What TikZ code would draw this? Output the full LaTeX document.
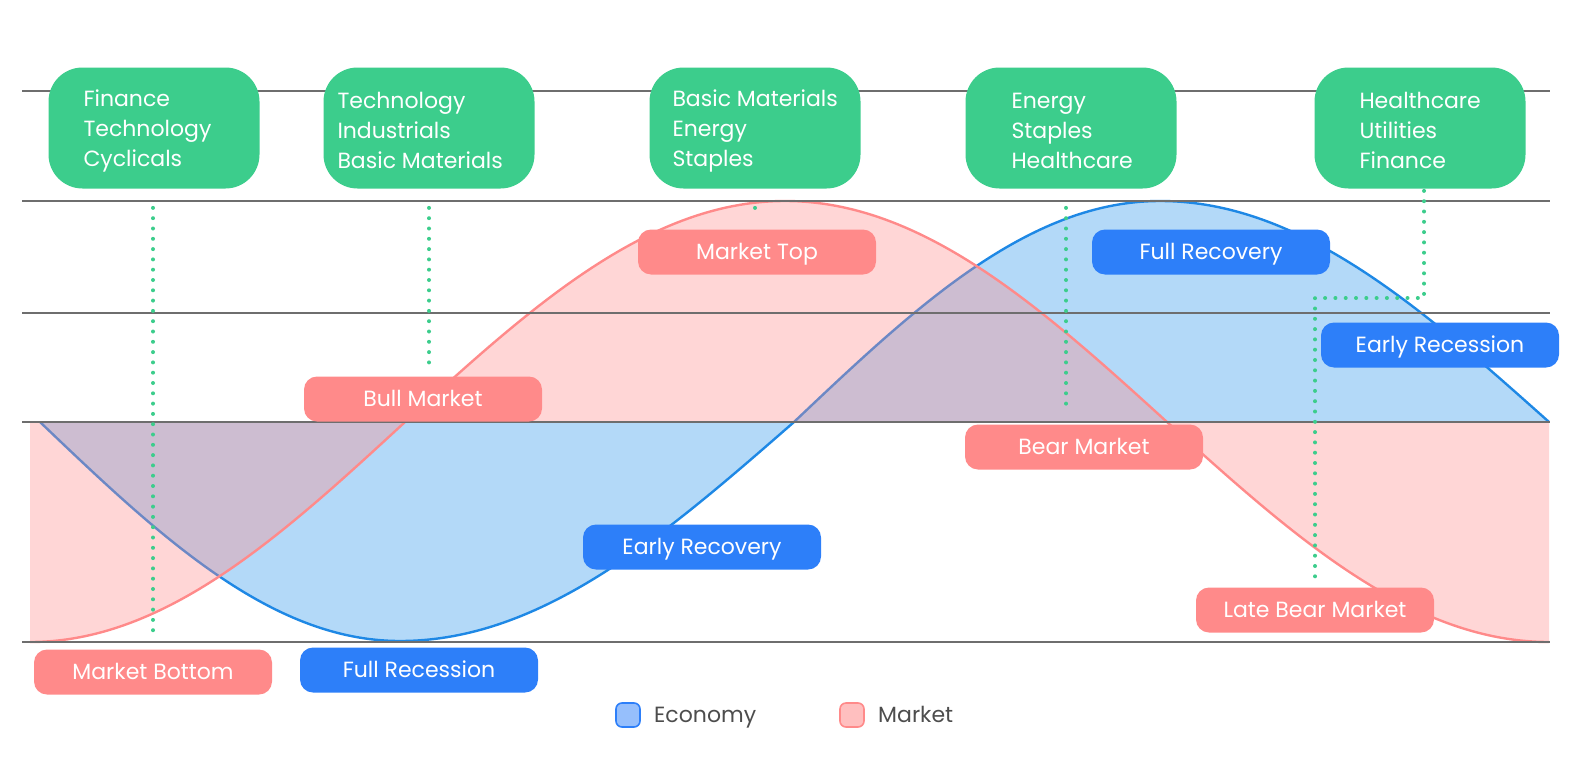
\documentclass[tikz,border=0pt]{standalone}
\usepackage{fontspec}
\setmainfont{Poppins}
\usetikzlibrary{positioning}

\definecolor{sectorgreen}{RGB}{60,205,140}
\definecolor{econblue}{RGB}{45,127,249}
\definecolor{econline}{RGB}{30,136,229}
\definecolor{econfill}{RGB}{38,146,235}
\definecolor{mktred}{RGB}{255,138,138}
\definecolor{levelgray}{RGB}{110,110,110}
\definecolor{keytext}{RGB}{77,77,77}

\tikzset{
  sector/.style={fill=sectorgreen, rounded corners=17pt, minimum width=105.5pt, minimum height=60.5pt},
  sectortext/.style={anchor=west, yshift=-1.3pt, text=white, align=left, inner sep=0pt, font=\fontsize{11}{15}\selectfont},
  phase/.style={rounded corners=6.5pt, minimum width=119pt, minimum height=22.5pt, inner sep=0pt,
    text height=7.7pt, text depth=0pt, text=white, font=\fontsize{11}{12}\selectfont},
  mktphase/.style={phase, fill=mktred},
  econphase/.style={phase, fill=econblue},
  link/.style={sectorgreen, line width=2pt, line cap=round, dash pattern=on 0pt off 5.15pt},
  level/.style={levelgray, line width=0.9pt},
  keybox/.style={rounded corners=3pt, minimum size=12pt, line width=0.8pt},
  keylabel/.style={inner sep=0pt, text height=7.7pt, text depth=0pt, text=keytext, font=\fontsize{11}{12}\selectfont},
}

\begin{document}
\begin{tikzpicture}[x=0.5pt, y=-0.5pt]
    \useasboundingbox (0,0) rectangle (1578,776);

    % economy wave
    \fill[econfill, fill opacity=0.35] (40,422) sin (400,641) cos (794,422) sin (1160,201) cos (1549,422) -- cycle;
    \draw[econline, line width=1.2pt] (40,422) sin (400,641) cos (794,422) sin (1160,201) cos (1549,422);

    % market wave
    \fill[mktred, fill opacity=0.35] (30,642) cos (405,422) sin (785,201) cos (1167,422) sin (1549,642) -- (1549,422) -- (30,422) -- cycle;
    \draw[mktred, line width=1.2pt] (30,642) cos (405,422) sin (785,201) cos (1167,422) sin (1549,642);

    % levels
    \foreach \y in {91,201,313,422,642}
        \draw[level] (22,\y) -- (1550,\y);

    % sectors
    \node[sector] (s1) at (154,128) {};
    \node[sectortext] (t1) at ([xshift=17.5pt]s1.west) {Finance\\Technology\\Cyclicals};
    \node[sector] (s2) at (429,128) {};
    \node[sectortext] (t2) at ([xshift=7pt]s2.west) {Technology\\Industrials\\Basic Materials};
    \node[sector] (s3) at (755,128) {};
    \node[sectortext] (t3) at ([xshift=11.5pt]s3.west) {Basic Materials\\Energy\\Staples};
    \node[sector] (s4) at (1071,128) {};
    \node[sectortext] (t4) at ([xshift=23pt]s4.west) {Energy\\Staples\\Healthcare};
    \node[sector] (s5) at (1420,128) {};
    \node[sectortext] (t5) at ([xshift=22.5pt]s5.west) {Healthcare\\Utilities\\Finance};

    % market phases
    \node[mktphase] (top) at (757,252) {Market Top};
    \node[mktphase] (bull) at (423,399) {Bull Market};
    \node[mktphase] (bear) at (1084,447) {Bear Market};
    \node[mktphase] (latebear) at (1315,610) {Late Bear Market};
    \node[mktphase] (bottom) at (153,672) {Market Bottom};

    % economy phases
    \node[econphase] (fullrec) at (1211,252) {Full Recovery};
    \node[econphase] (earlyrecess) at (1440,345) {Early Recession};
    \node[econphase] (earlyrec) at (702,547) {Early Recovery};
    \node[econphase] (fullrecess) at (419,670) {Full Recession};

    % dotted links
    \draw[link, shorten <=9.5pt, shorten >=8.5pt] (s1.south -| bottom.north) -- (bottom.north);
    \draw[link, shorten <=9.5pt, shorten >=3pt] (s2.south) -- (s2.south |- bull.north);
    \draw[link, shorten <=9.5pt, shorten >=6.5pt] (s3.south) -- (s3.south |- top.north);
    \draw[link, shorten <=9.5pt, shorten >=7.5pt] ([xshift=-2.5pt]s4.south) -- ([xshift=-2.5pt]s4.south |- bear.north);
    \coordinate (bend) at (1315,298);
    \draw[link, shorten <=1pt, shorten >=4pt] ([xshift=2pt]s5.south) |- (bend) -- (latebear.north);

    % legend
    \node[keybox, draw=econblue, fill=econblue!50] (econkey) at (628,715) {};
    \node[keylabel, right=6.5pt of econkey] (econname) {Economy};
    \node[keybox, draw=mktred, fill=mktred!55] (mktkey) at (852,715) {};
    \node[keylabel, right=6.5pt of mktkey] (mktname) {Market};
\end{tikzpicture}
\end{document}
